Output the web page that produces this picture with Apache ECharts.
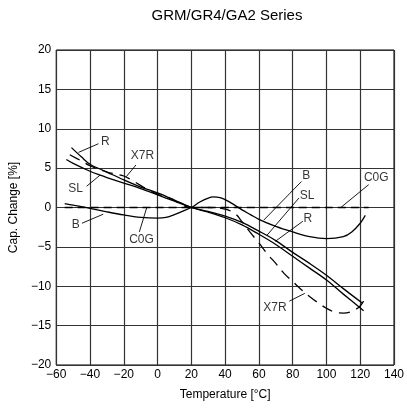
<!DOCTYPE html>
<html><head><meta charset="utf-8">
<script src="https://cdn.jsdelivr.net/npm/echarts@6/dist/echarts.min.js"></script>
<style>html,body{margin:0;padding:0;background:#fff}#c{width:407px;height:409px}</style>
</head><body><div id="c"></div>
<script>
const xTicks = [-60,-40,-20,0,20,40,60,80,100,120,140];
const yTicks = [-20,-15,-10,-5,0,5,10,15,20];
const seriesR = [[-51,7.6],[-45,6.4],[-40,5.5],[-30,4.5],[-20,3.5],[-10,2.6],[0,1.85],[10,0.95],[20,0],[30,-0.6],[40,-1.3],[50,-2.2],[60,-3.4],[70,-4.7],[80,-6.2],[90,-7.7],[100,-9.2],[110,-11.0],[122,-13.1]];
const seriesSL = [[-54,6.1],[-50,5.6],[-40,4.6],[-34,4.1],[-30,3.8],[-20,3.1],[-10,2.4],[0,1.6],[10,0.8],[20,0],[30,-0.5],[40,-1.1],[50,-1.9],[60,-3.0],[70,-4.2],[80,-5.7],[90,-7.1],[100,-8.6],[110,-10.3],[121,-12.1]];
const seriesX7R = [[-52,6.7],[-45,5.9],[-40,5.3],[-30,4.5],[-20,4.0],[-14,3.3],[-6,2.3],[0,1.7],[7,1.2],[20,0],[30,0],[40,-0.2],[46,-0.8],[50,-1.8],[55,-3.2],[60,-4.5],[65,-5.9],[70,-7.1],[75,-8.4],[80,-9.4],[85,-10.4],[90,-11.3],[95,-12.1],[100,-12.8],[105,-13.3],[110,-13.4],[115,-13.2],[120,-12.5],[123,-11.5]];
const seriesB = [[-55,0.5],[-50,0.3],[-40,-0.1],[-30,-0.55],[-20,-0.95],[-10,-1.25],[0,-1.35],[5,-1.25],[10,-0.9],[15,-0.45],[20,0],[25,0.7],[30,1.2],[33,1.35],[37,1.25],[40,1.0],[45,0.4],[50,-0.3],[55,-0.9],[60,-1.5],[70,-2.4],[80,-3.1],[90,-3.7],[100,-3.95],[110,-3.7],[115,-3.1],[120,-2.0],[123,-1.0]];
const seriesC0G = [[-55,0],[125,0]];
// annotation labels: text, text position, leader start, leader end
const annoText = ['R','X7R','SL','B','C0G','B','SL','R','C0G','X7R'];
const annoPos = [[-31,8.4],[-9,6.6],[-48.5,2.4],[-48.5,-2.2],[-9.5,-4.1],[88,4.0],[88.5,1.5],[89,-1.4],[129.5,3.8],[69.5,-12.7]];
const annoFrom = [[-35,8.1],[-12.8,5.4],[-42,2.7],[-44.8,-2.0],[-10.8,-3.1],[85.2,3.3],[83.7,1.2],[86,-1.75],[125,2.9],[78,-11.9]];
const annoTo = [[-46.8,7.0],[-18.6,3.9],[-34.1,4.1],[-32.2,-0.85],[-6.4,0],[62.9,-1.6],[64.9,-3.5],[69.7,-4.3],[108.5,0],[87.2,-10.9]];

const minus = v => String(v).replace('-', '\u2212');
const font = '"Liberation Sans", Arial, sans-serif';
const curve = (name, data, dash) => ({
  name, type: 'line', data, smooth: 0.35, showSymbol: false, silent: true,
  lineStyle: {color: '#000', width: 1.3, type: dash || 'solid'}, z: 3
});
const series = [
  curve('R', seriesR), curve('SL', seriesSL), curve('X7R', seriesX7R, [11,7]),
  curve('B', seriesB), curve('C0G', seriesC0G, [8,5])
];
annoText.forEach((t, i) => {
  series.push({type: 'line', data: [annoFrom[i], annoTo[i]], showSymbol: false, silent: true,
    lineStyle: {color: '#000', width: 0.9}, z: 4});
});
series.push({type: 'scatter', symbolSize: 0, silent: true, z: 5,
  data: annoPos.map((p, i) => ({value: p, label: {show: true, formatter: annoText[i]}})),
  label: {position: 'inside', color: '#000', fontSize: 12, fontFamily: font}
});

const chart = echarts.init(document.getElementById('c'), null, {renderer: 'canvas'});
chart.setOption({
  animation: false,
  title: {text: 'GRM/GR4/GA2 Series', left: 222, textAlign: 'center', top: 3,
    textStyle: {fontSize: 15, fontWeight: 'normal', color: '#000', fontFamily: font}},
  grid: {left: 52, right: 11, top: 50, bottom: 44, show: true, borderColor: '#000', borderWidth: 1},
  xAxis: {type: 'value', min: xTicks[0], max: xTicks[xTicks.length-1], interval: 20,
    name: 'Temperature [\u00B0C]', nameLocation: 'middle', nameGap: 24,
    nameTextStyle: {fontSize: 12, color: '#000', fontFamily: font},
    axisLine: {show: false}, axisTick: {show: false},
    axisLabel: {fontSize: 12, color: '#000', margin: 4, fontFamily: font, formatter: minus},
    splitLine: {show: true, lineStyle: {color: '#333', width: 1.2}}},
  yAxis: {type: 'value', min: yTicks[0], max: yTicks[yTicks.length-1], interval: 5,
    name: 'Cap. Change [%]', nameLocation: 'middle', nameGap: 26,
    nameTextStyle: {fontSize: 12, color: '#000', fontFamily: font},
    axisLine: {show: false}, axisTick: {show: false},
    axisLabel: {fontSize: 12, color: '#000', margin: 5, fontFamily: font, formatter: minus},
    splitLine: {show: true, lineStyle: {color: '#333', width: 1.2}}},
  series
});
</script></body></html>
